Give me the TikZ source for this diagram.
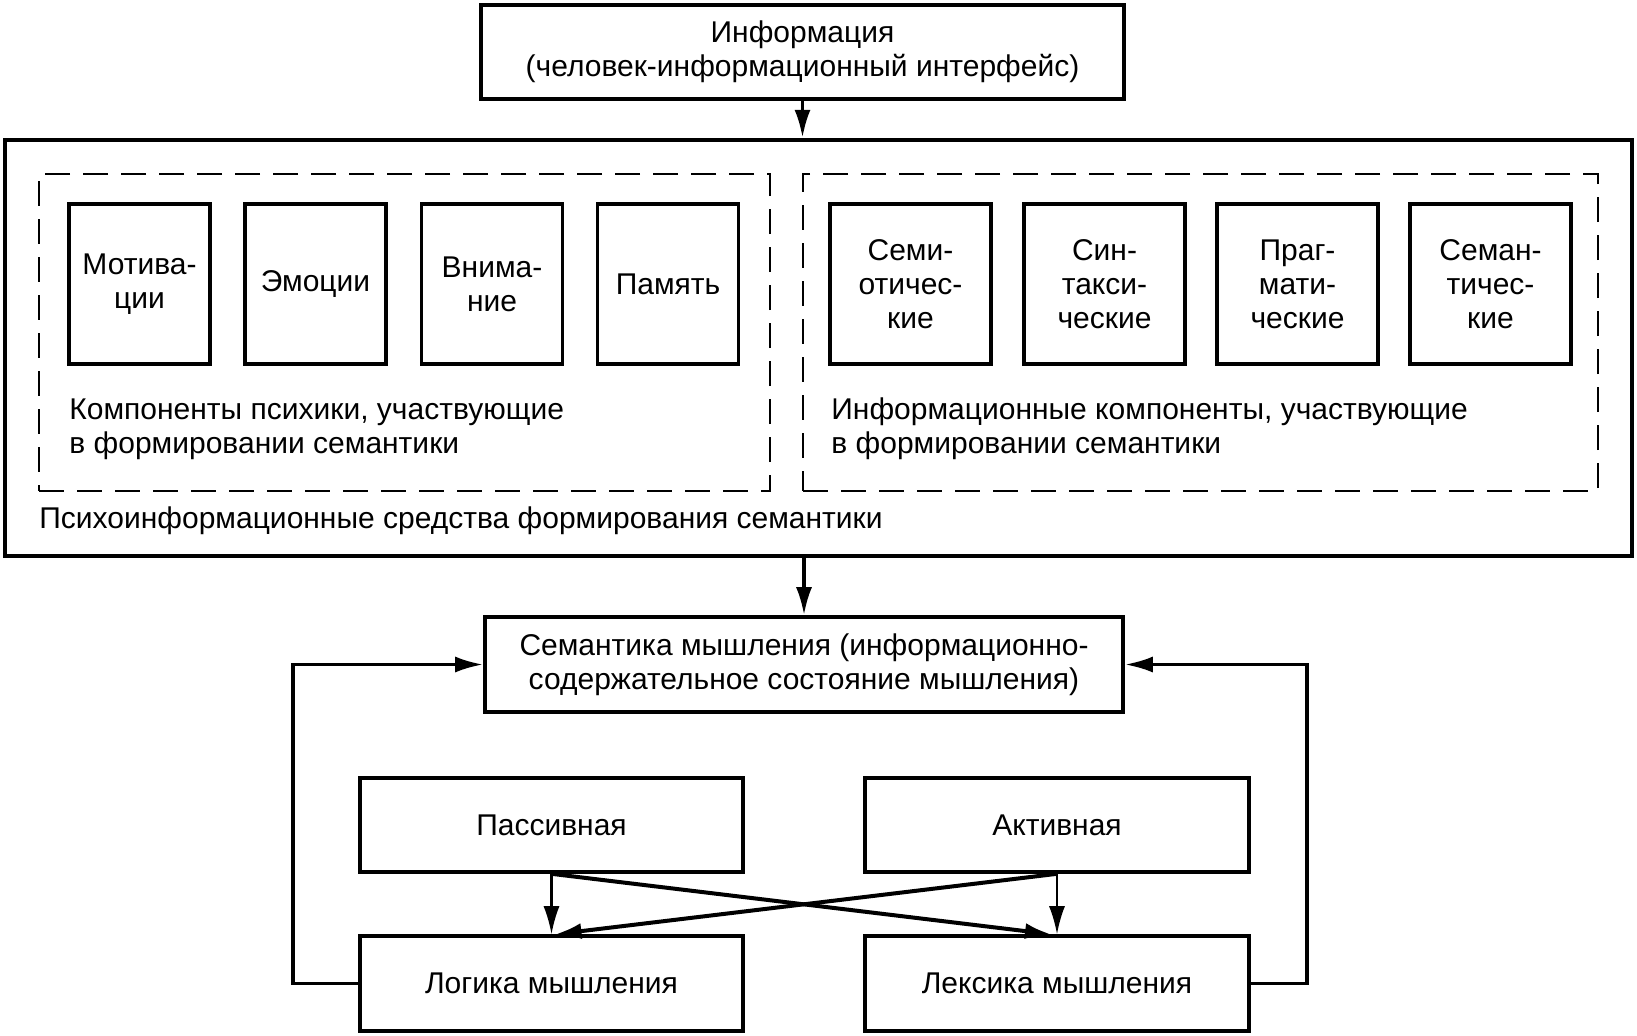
\documentclass[tikz,border=0pt]{standalone}
\usepackage{fontspec}
\setmainfont{Liberation Sans}
\usetikzlibrary{arrows.meta}
\begin{document}
\begin{tikzpicture}[x=0.5pt,y=-0.5pt,
  every node/.style={font=\fontsize{15}{17}\selectfont, inner sep=0pt},
  box/.style={draw, line width=1.8pt, align=center},
  bigbox/.style={draw, line width=2.2pt},
  dbox/.style={draw, line width=1.2pt, dash pattern=on 12.5pt off 6.5pt},
  lbl/.style={anchor=west, align=left},
  arr/.style={-{Latex[length=14pt,width=8pt]}, line width=1.7pt},
  thinarr/.style={-{Latex[length=14pt,width=8pt]}, line width=1.1pt},
  crossarr/.style={-{Latex[length=13pt,width=8pt]}, line width=2pt}
]
\fill[white] (0,0) rectangle (1637,1035);
\useasboundingbox (0,0) rectangle (1637,1035);

% top
\node[box, minimum width=321.5pt, minimum height=47pt] (info) at (802.5,52)
  {Информация\\(человек-информационный интерфейс)};

% big frame
\node[bigbox, minimum width=813.5pt, minimum height=208pt] (big) at (818.5,348) {};
\node[dbox, minimum width=365.5pt, minimum height=158.5pt] (dl) at (404.5,332.5) {};
\node[dbox, minimum width=397.5pt, minimum height=158.5pt] (dr) at (1200.5,332.5) {};

% left small boxes
\node[box, minimum width=70.5pt, minimum height=80pt] (mot) at (139.5,284) {Мотива-\\ции};
\node[box, minimum width=70.5pt, minimum height=80pt] (emo) at (315.5,284) {Эмоции};
\node[box, minimum width=70.5pt, minimum height=80pt] (vni) at (492,284) {Внима-\\ние};
\node[box, minimum width=70.5pt, minimum height=80pt] (pam) at (668,284) {Память};

% right small boxes
\node[box, minimum width=80.5pt, minimum height=80pt] (semi) at (910.5,284) {Семи-\\отичес-\\кие};
\node[box, minimum width=80.5pt, minimum height=80pt] (sin) at (1104.5,284) {Син-\\такси-\\ческие};
\node[box, minimum width=80.5pt, minimum height=80pt] (pra) at (1297.5,284) {Праг-\\мати-\\ческие};
\node[box, minimum width=80.5pt, minimum height=80pt] (sema) at (1490.5,284) {Семан-\\тичес-\\кие};

\node[lbl] (lblL) at (69,429) {Компоненты психики, участвующие\\в формировании семантики};
\node[lbl] (lblR) at (831,429) {Информационные компоненты, участвующие\\в формировании семантики};
\node[lbl] (lblB) at (39,521) {Психоинформационные средства формирования семантики};

% lower part
\node[box, minimum width=319pt, minimum height=47.5pt] (sem) at (804,664.5)
  {Семантика мышления (информационно-\\содержательное состояние мышления)};
\node[box, minimum width=191.5pt, minimum height=47pt] (pas) at (551.5,825) {Пассивная};
\node[box, minimum width=192pt, minimum height=47pt] (act) at (1057,825) {Активная};
\node[box, minimum width=191.5pt, minimum height=47.5pt] (log) at (551.5,983.5) {Логика мышления};
\node[box, minimum width=192pt, minimum height=47.5pt] (lex) at (1057,983.5) {Лексика мышления};

\coordinate (fbl) at (293,664.5);
\coordinate (fbr) at (1307,664.5);

% connectors
\draw[arr] (info.south) -- (info.south |- big.north);
\draw[arr] (sem.north |- big.south) -- (sem.north);
\draw[arr] (log.west) -| (fbl) -- (sem.west);
\draw[arr] (lex.east) -| (fbr) -- (sem.east);
\draw[thinarr] (pas.south) -- (log.north);
\draw[thinarr] (act.south) -- (lex.north);
\draw[crossarr] (pas.south) -- ([xshift=-3pt]lex.north);
\draw[crossarr] (act.south) -- ([xshift=2pt]log.north);
\end{tikzpicture}
\end{document}
